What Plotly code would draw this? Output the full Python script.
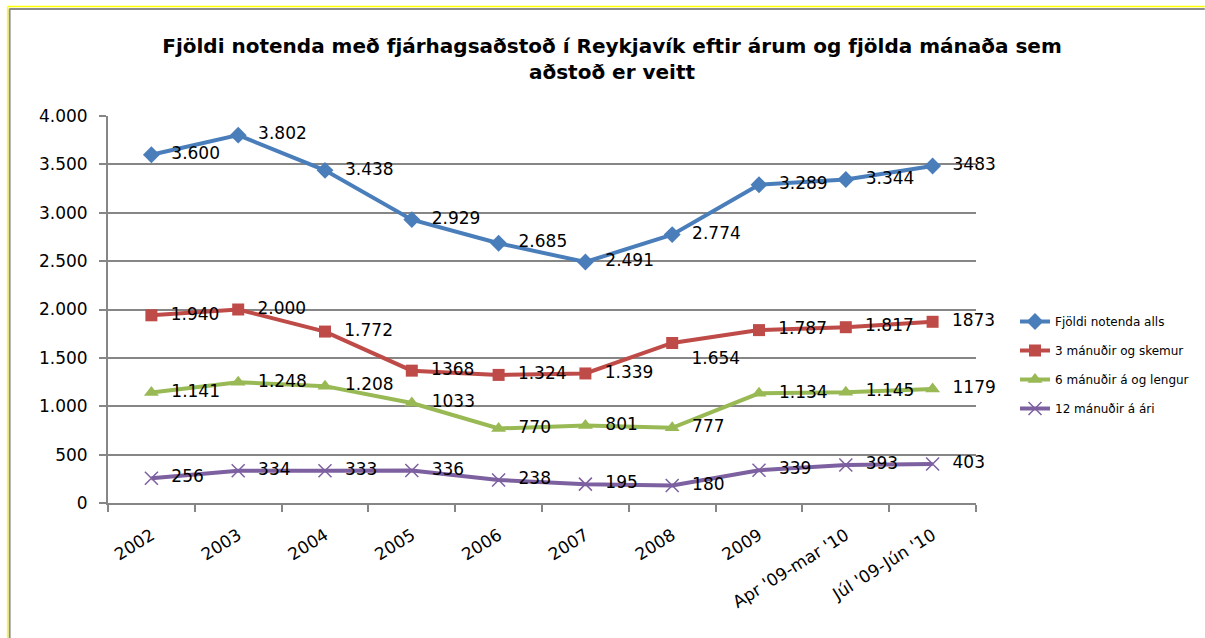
import plotly.graph_objects as go

categories = ["2002", "2003", "2004", "2005", "2006", "2007", "2008", "2009",
              "Apr '09-mar '10", "Júl '09-Jún '10"]

series_names = ["Fjöldi notenda alls", "3 mánuðir og skemur",
                "6 mánuðir á og lengur", "12 mánuðir á ári"]

total = [3600, 3802, 3438, 2929, 2685, 2491, 2774, 3289, 3344, 3483]
m3 = [1940, 2000, 1772, 1368, 1324, 1339, 1654, 1787, 1817, 1873]
m6 = [1141, 1248, 1208, 1033, 770, 801, 777, 1134, 1145, 1179]
m12 = [256, 334, 333, 336, 238, 195, 180, 339, 393, 403]

total_labels = ["3.600", "3.802", "3.438", "2.929", "2.685", "2.491", "2.774", "3.289", "3.344", "3483"]
m3_labels = ["1.940", "2.000", "1.772", "1368", "1.324", "1.339", "1.654", "1.787", "1.817", "1873"]
m6_labels = ["1.141", "1.248", "1.208", "1033", "770", "801", "777", "1.134", "1.145", "1179"]
m12_labels = ["256", "334", "333", "336", "238", "195", "180", "339", "393", "403"]

yticks = [0, 500, 1000, 1500, 2000, 2500, 3000, 3500, 4000]

FONT = "DejaVu Sans"
W, H = 1205, 638
L, R, T, B = 108, 977, 116, 503

series = [
    (total, total_labels, "#4A7EBB", "diamond", 13),
    (m3, m3_labels, "#BE4B48", "square", 12),
    (m6, m6_labels, "#98B954", "triangle-up", 13),
    (m12, m12_labels, "#7D60A0", "x-thin", 13),
]

fig = go.Figure()
for i, (vals, labs, col, sym, sz) in enumerate(series):
    pos = ["middle right"] * len(vals)
    if i == 1:
        pos[6] = "bottom right"
    marker = dict(symbol=sym, size=sz, color=col)
    if sym == "x-thin":
        marker["line"] = dict(color=col, width=1.5)
    fig.add_trace(go.Scatter(
        x=categories, y=vals, name=series_names[i],
        mode="lines+markers+text",
        text=["  " + t for t in labs], textposition=pos,
        textfont=dict(family=FONT, size=17, color="#000000"),
        line=dict(color=col, width=4),
        marker=marker,
        legendgroup=str(i),
        cliponaxis=False,
    ))

def px_x(px):
    return (px - L) / (R - L)

def px_y(py):
    return (B - py) / (B - T)

shapes = [
    dict(type="line", xref="paper", yref="paper",
         x0=px_x(9.5), x1=px_x(9.5), y0=px_y(640), y1=px_y(8.5),
         line=dict(color="#8C8C8C", width=2)),
    dict(type="line", xref="paper", yref="paper",
         x0=px_x(9.5), x1=px_x(1206), y0=px_y(9), y1=px_y(9),
         line=dict(color="#8C8C8C", width=2)),
    dict(type="line", xref="paper", yref="paper",
         x0=px_x(7.5), x1=px_x(7.5), y0=px_y(640), y1=px_y(6.5),
         line=dict(color="#FFFF00", width=1.5)),
    dict(type="line", xref="paper", yref="paper",
         x0=px_x(7.5), x1=px_x(1206), y0=px_y(6.5), y1=px_y(6.5),
         line=dict(color="#FFFF00", width=1.5)),
]

fig.update_layout(
    width=W, height=H,
    margin=dict(l=L, r=W - R, t=T, b=H - B),
    paper_bgcolor="white", plot_bgcolor="white",
    separators=",.",
    font=dict(family=FONT, color="#000000"),
    title=dict(
        text="<b>Fjöldi notenda með fjárhagsaðstoð í Reykjavík eftir árum og fjölda mánaða sem<br>aðstoð er veitt</b>",
        x=612 / W, xref="container", xanchor="center",
        y=1 - 53 / H, yref="container", yanchor="top",
        font=dict(family=FONT, size=20, color="#000000"),
    ),
    showlegend=True,
    legend=dict(
        x=px_x(1015), y=px_y(307), xanchor="left", yanchor="top",
        font=dict(family=FONT, size=12, color="#000000"),
        tracegroupgap=10, traceorder="grouped",
        bgcolor="rgba(0,0,0,0)",
    ),
    shapes=shapes,
)

fig.update_xaxes(
    type="category", categoryorder="array", categoryarray=categories,
    range=[-0.5, len(categories) - 0.5], autorange=False,
    showline=True, linecolor="#868686", linewidth=2,
    ticks="outside", tickson="boundaries", ticklen=7, tickcolor="#868686", tickwidth=2,
    tickangle=-32, ticklabelstandoff=14,
    tickfont=dict(family=FONT, size=17, color="#000000"),
    showgrid=False, zeroline=False,
)
fig.update_yaxes(
    range=[0, 4000], tickvals=yticks, tickformat=",d",
    showline=True, linecolor="#868686", linewidth=2,
    ticks="outside", ticklen=7, tickcolor="#868686", tickwidth=2,
    ticklabelstandoff=8,
    tickfont=dict(family=FONT, size=17, color="#000000"),
    showgrid=True, gridcolor="#868686", gridwidth=1.5,
    zeroline=False,
)

fig.write_html(
    "out.html",
    config={"displayModeBar": False},
    post_script="document.body.style.margin='0';document.documentElement.style.overflow='hidden';document.body.style.overflow='hidden';",
)
